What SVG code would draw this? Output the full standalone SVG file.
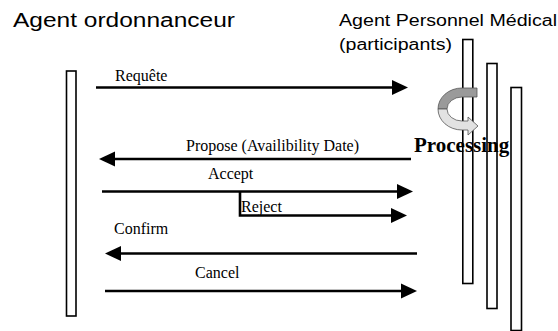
<svg xmlns="http://www.w3.org/2000/svg" width="558" height="331" viewBox="0 0 558 331">
<defs>
<marker id="ah" markerUnits="userSpaceOnUse" markerWidth="17" markerHeight="16" refX="0" refY="7.5" orient="auto" overflow="visible">
<path d="M0,0 L16,7.5 L0,15 Z" fill="#000"/>
</marker>
<style>
.life{fill:#fff;stroke:#000;stroke-width:1.6}
.msg{fill:none;stroke:#000;stroke-width:2.6;marker-end:url(#ah)}
.lbl{font-family:"Liberation Serif","Times New Roman",serif;font-size:16px;fill:#000}
.hdr{font-family:"Liberation Sans",Arial,sans-serif;fill:#000}
</style>
</defs>
<rect width="558" height="331" fill="#fff"/>
<g id="agent-ordonnanceur">
<text class="hdr" x="13" y="27" font-size="20" textLength="222" lengthAdjust="spacingAndGlyphs">Agent ordonnanceur</text>
<rect class="life" x="66.5" y="71" width="9.5" height="245"/>
</g>
<g id="agent-personnel">
<text class="hdr" x="339" y="26" font-size="16" textLength="218" lengthAdjust="spacingAndGlyphs">Agent Personnel Médical</text>
<text class="hdr" x="339" y="50" font-size="16" textLength="113" lengthAdjust="spacingAndGlyphs">(participants)</text>
<rect class="life" x="462.8" y="39.5" width="10" height="244"/>
<rect class="life" x="487" y="63.5" width="10" height="245"/>
<rect class="life" x="511" y="87.5" width="10.5" height="243"/>
</g>
<g id="processing">
<path d="M477,88 L462,88 A24,21 0 0 0 438,109 L447,109 A15,12 0 0 1 462,97 L477,97 Z" fill="#9a9a9a" stroke="#555" stroke-width="0.8"/>
<path d="M438,109 A24,21 0 0 0 462,130 L468,130 L468,135 L478,126 L468,117 L468,121 L462,121 A15,12 0 0 1 447,109 Z" fill="#e2e2e2" stroke="#555" stroke-width="0.8"/>
<text x="414" y="152" font-family="'Liberation Serif','Times New Roman',serif" font-size="21" font-weight="bold" fill="#000">Processing</text>
</g>
<g id="connectors">
<line class="msg" x1="96" y1="87.5" x2="392" y2="87.5"/>
<line class="msg" x1="411" y1="159" x2="115" y2="159"/>
<line class="msg" x1="102" y1="191.5" x2="397" y2="191.5"/>
<path class="msg" d="M240,191.5 V215.5 H391"/>
<line class="msg" x1="417" y1="253.5" x2="121" y2="253.5"/>
<line class="msg" x1="105" y1="291" x2="401" y2="291"/>
</g>
<g id="labels">
<text class="lbl" x="115" y="81">Requête</text>
<text class="lbl" x="186" y="151">Propose (Availibility Date)</text>
<text class="lbl" x="208" y="179">Accept</text>
<text class="lbl" x="241" y="212">Reject</text>
<text class="lbl" x="114" y="234">Confirm</text>
<text class="lbl" x="195" y="278">Cancel</text>
</g>
</svg>
